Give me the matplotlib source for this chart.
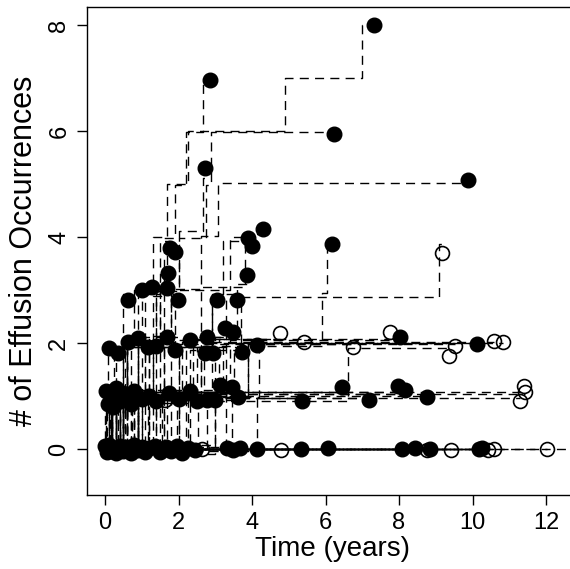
import matplotlib
matplotlib.use('Agg')
from matplotlib import pyplot as plt

plt.rcParams['font.family'] = ['Liberation Sans', 'DejaVu Sans']

# one entry per patient: follow-up (years), height of the end marker,
# died (filled) or censored (open), and the times of each effusion
# --- 5+ effusions
end_time = [7.32, 2.86, 6.24, 2.72, 9.88]
end_y = [8.0, 6.96, 5.94, 5.3, 5.07]
died = [1, 1, 1, 1, 1]
event_times = [
    [0.3, 0.55, 0.9, 1.3, 1.7, 2.25, 4.9, 7.0],
    [0.4, 0.9, 1.4, 1.6, 1.9, 2.2, 2.67],
    [0.6, 1.1, 1.5, 2.0, 2.75, 2.88],
    [0.3, 0.6, 1.5, 2.0, 2.68],
    [0.5, 1.3, 1.9, 2.6, 3.07],
]

# --- 4 effusions
end_time += [1.77, 1.9, 3.9, 4.0, 4.3, 6.19, 9.18]
end_y += [3.79, 3.72, 3.98, 3.83, 4.15, 3.87, 3.69]
died += [1, 1, 1, 1, 1, 1, 0]
event_times += [
    [0.3, 0.6, 1.0, 1.5], [0.2, 0.9, 1.3, 1.7], [0.5, 1.1, 1.8, 3.4],
    [0.9, 1.6, 2.9, 3.2], [0.7, 1.4, 2.6, 3.8], [0.8, 2.6, 5.9, 6.05],
    [1.0, 2.3, 3.7, 9.1],
]

# --- 3 effusions
end_time += [0.63, 1.0, 1.28, 1.69, 1.72, 1.99, 3.05, 3.6, 3.86]
end_y += [2.81, 3.0, 3.06, 3.04, 3.32, 2.81, 2.81, 2.81, 3.28]
died += [1, 1, 1, 1, 1, 1, 1, 1, 1]
event_times += [
    [0.1, 0.3, 0.5], [0.2, 0.5, 0.8], [0.15, 0.6, 1.1], [0.3, 0.9, 1.4],
    [0.4, 1.2, 1.6], [0.2, 0.7, 1.8], [0.6, 1.5, 2.9], [0.5, 2.0, 3.3],
    [0.9, 1.8, 3.6],
]

# --- 2 effusions
end_time += [0.1, 0.35, 0.63, 0.9, 1.17, 1.4, 1.68, 1.9, 2.3, 2.72, 2.77, 2.95,
             3.27, 3.49, 3.72, 4.13, 4.76, 5.42, 6.74, 7.76, 8.03, 9.37, 9.52,
             10.11, 10.59, 10.84]
end_y += [1.9, 1.81, 2.02, 2.1, 1.93, 1.95, 2.12, 1.87, 2.05, 1.81, 2.11, 1.81,
          2.28, 2.21, 1.83, 1.96, 2.18, 2.01, 1.93, 2.21, 2.12, 1.75, 1.95,
          1.98, 2.04, 2.01]
died += [1, 1, 1, 1, 1, 1, 1, 1, 1, 1, 1, 1,
         1, 1, 1, 1, 0, 0, 0, 0, 1, 0, 0,
         1, 0, 0]
event_times += [
    [0.03, 0.07], [0.1, 0.25], [0.2, 0.5], [0.3, 0.6], [0.4, 1.0], [0.5, 1.2],
    [0.6, 1.3], [0.7, 1.6], [0.9, 2.1], [1.3, 2.5], [0.5, 2.6], [1.1, 2.4],
    [0.9, 3.0], [1.6, 3.2], [2.0, 3.5], [1.2, 3.9], [0.8, 2.2], [1.5, 2.7],
    [0.4, 4.2], [1.4, 3.1], [2.2, 3.4], [3.0, 6.6], [0.6, 2.0], [1.8, 3.3],
    [0.9, 2.9], [1.7, 3.9],
]

# --- 1 effusion
end_time += [0.02, 0.08, 0.15, 0.22, 0.3, 0.4, 0.5, 0.6, 0.7, 0.8, 1.0, 1.2,
             1.4, 1.63, 1.75, 2.0, 2.3, 2.5, 2.77, 3.0, 3.13, 3.45, 3.63, 5.35,
             6.44, 7.19, 7.98, 8.16, 8.77, 11.29, 11.41, 11.43]
end_y += [1.1, 0.85, 1.0, 0.8, 1.15, 0.9, 1.05, 0.95, 0.85, 1.1, 0.95, 1.0,
          0.9, 0.93, 1.05, 0.95, 1.1, 0.9, 0.92, 0.92, 1.2, 1.17, 0.98, 0.91,
          1.17, 0.92, 1.18, 1.11, 0.99, 0.91, 1.19, 1.08]
died += [1, 1, 1, 1, 1, 1, 1, 1, 1, 1, 1, 1,
         1, 0, 1, 1, 1, 1, 1, 1, 1, 1, 1, 1,
         1, 1, 1, 1, 1, 0, 0, 0]
event_times += [
    [0.0], [0.04], [0.05], [0.1], [0.2], [0.15], [0.35], [0.14], [0.55],
    [0.54], [0.73], [0.9], [1.17], [0.35], [1.55], [1.6], [1.96], [2.26],
    [2.53], [2.78], [1.2], [3.0], [3.46], [4.13], [2.0], [0.8], [1.0], [2.3],
    [0.5], [1.4], [0.6], [3.3],
]

# --- no effusion
end_time += [0.0, 0.05, 0.1, 0.15, 0.2, 0.3, 0.4, 0.5, 0.6, 0.7, 0.8, 0.9,
             1.0, 1.1, 1.2, 1.35, 1.5, 1.65, 1.8, 1.95, 2.1, 2.25, 2.45, 2.63,
             3.31, 3.49, 3.67, 4.13, 4.79, 5.32, 6.07, 8.08, 8.43, 8.75, 8.84,
             9.41, 10.18, 10.25, 10.42, 10.58, 12.02, 13.0]
end_y += [0.05, -0.06, 0.08, -0.03, 0.02, -0.08, 0.06, -0.04, 0.03, -0.07,
          0.07, -0.02, 0.04, -0.05, 0.01, 0.06, -0.06, 0.03, -0.03, 0.05,
          -0.07, 0.02, -0.02, 0.0, 0.01, -0.02, 0.02, 0.0, -0.01, 0.0, 0.01,
          0.0, 0.01, -0.01, 0.0, -0.01, 0.0, 0.01, -0.01, 0.0, 0.0, 0.0]
died += [1] * 23 + [0, 1, 1, 1, 1, 0, 1, 1, 1, 1, 0, 1, 0, 1, 1, 0, 0, 0, 0]
event_times += [[] for _ in range(42)]


def step_path(events, end, off):
    xs, ys = [0.0], [off]
    for k, t in enumerate(events):
        xs += [t, t]
        ys += [k + off, k + 1 + off]
    xs.append(end)
    ys.append(len(events) + off)
    return xs, ys


fig = plt.figure(figsize=(5.7, 5.69), dpi=100)
ax = fig.add_axes([87 / 570, 74 / 569, (578 - 87) / 570, (495 - 7.3) / 569])

for i, (ev, t_end, y_end) in enumerate(zip(event_times, end_time, end_y)):
    # lines carry less vertical spread than the end markers
    xs, ys = step_path(ev, t_end, 0.4 * (y_end - len(ev)))
    ax.plot(xs, ys, color='black', lw=1.0,
            ls=((i * 2.7) % 11, (6.5, 4.5)), zorder=2)

for t_end, y_end, d in zip(end_time, end_y, died):
    if d:
        ax.plot(t_end, y_end, 'o', ms=10.5, color='black', zorder=3)
    else:
        ax.plot(t_end, y_end, 'o', ms=10, mfc='none', mec='black',
                mew=1.2, zorder=3)

ax.set_xlim(-0.49, (578 - 105) / 36.75)
ax.set_ylim((449 - 495) / 53, (449 - 7.3) / 53)
ax.set_xticks(range(0, 13, 2))
ax.set_yticks(range(0, 9, 2))
ax.set_yticklabels([str(v) for v in range(0, 9, 2)], rotation=90, va='center')
ax.tick_params(length=7, width=1, labelsize=17, pad=5)
for s in ax.spines.values():
    s.set_linewidth(1.0)
ax.set_xlabel('Time (years)', fontsize=20, labelpad=2)
ax.set_ylabel('# of Effusion Occurrences', fontsize=22, labelpad=7)

fig.savefig('out.png', dpi=100)
